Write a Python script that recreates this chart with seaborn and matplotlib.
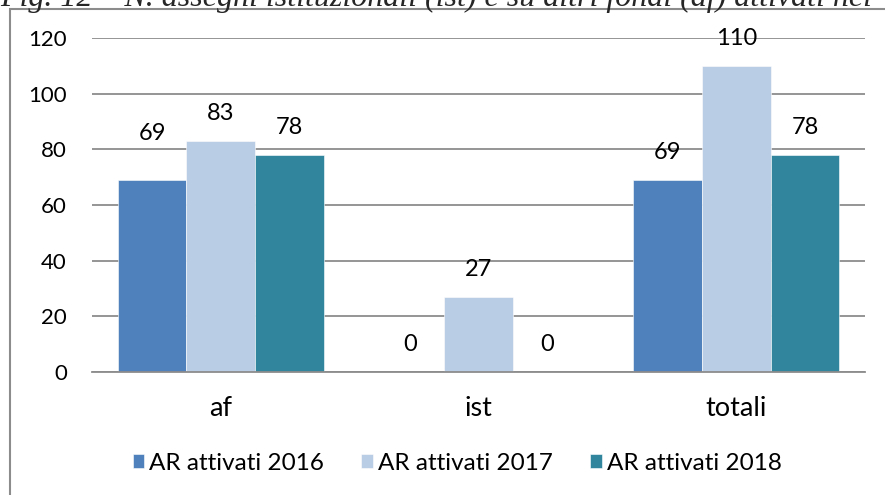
import pandas as pd
import matplotlib.pyplot as plt
import matplotlib.patches as mpatches
import seaborn as sns

# Data
categories = ["af", "ist", "totali"]
series = ["AR attivati 2016", "AR attivati 2017", "AR attivati 2018"]
values_2016 = [69, 0, 69]
values_2017 = [83, 27, 110]
values_2018 = [78, 0, 78]
colors = ["#4F81BD", "#B9CDE5", "#31859C"]
title = "Fig. 12 – N. assegni istituzionali (ist) e su altri fondi (af) attivati nel"

df = pd.DataFrame({
    "Categoria": categories * 3,
    "Serie": [s for s in series for _ in categories],
    "Valore": values_2016 + values_2017 + values_2018,
})

sns.set_theme(style="white")
plt.rcParams["font.family"] = ["Lato", "DejaVu Sans"]

fig = plt.figure(figsize=(8.85, 4.95), dpi=100)
ax = fig.add_axes([92 / 885, 1 - 372 / 495, (865 - 92) / 885, (372 - 38) / 495])

sns.barplot(data=df, x="Categoria", y="Valore", hue="Serie", palette=colors,
            saturation=1, width=0.8, gap=0, ax=ax, legend=True,
            edgecolor="white", linewidth=0.4)

ax.set_ylim(0, 120)
ax.set_xlim(-0.5, 2.5)
ax.set_yticks(range(0, 121, 20))
ax.yaxis.grid(True, color="#8c8c8c", linewidth=1.3)
ax.set_axisbelow(True)
for side in ["left", "right", "top"]:
    ax.spines[side].set_visible(False)
ax.spines["bottom"].set_color("#8c8c8c")
ax.spines["bottom"].set_linewidth(1.3)
ax.tick_params(axis="y", length=0, pad=18, labelsize=16, labelcolor="black")
ax.tick_params(axis="x", length=0, pad=17, labelsize=19.5, labelcolor="black")
ax.set_xlabel("")
ax.set_ylabel("")

# Data labels above the bars
for i, cont in enumerate(ax.containers):
    labels = ax.bar_label(cont, padding=12, fontsize=17, color="black")
    if i == 0:
        # first label sits higher in the original
        labels[0].set_position((0, 26))

ax.legend(ncol=3, frameon=False, fontsize=17.5, handlelength=0.47, handleheight=0.47,
          handletextpad=0.2, columnspacing=1.55, loc="center")
leg = ax.get_legend()
leg.set_bbox_to_anchor((457 / 885, 1 - 463 / 495), transform=fig.transFigure)
for t in leg.get_texts():
    t.set_color("black")

# Frame around the chart (runs off the page on the right and bottom)
fig.patches.append(mpatches.Rectangle((10 / 885, -0.1), 1.2, 1 - 9 / 495 + 0.1,
                                      transform=fig.transFigure, fill=False,
                                      edgecolor="#8c8c8c", linewidth=1.5))

# Caption cut at the top of the image
fig.text(0.0, 1 - 6 / 495, title, family="Liberation Serif", style="italic",
         fontsize=23, ha="left", va="baseline")

fig.savefig("out.png", dpi=100)
